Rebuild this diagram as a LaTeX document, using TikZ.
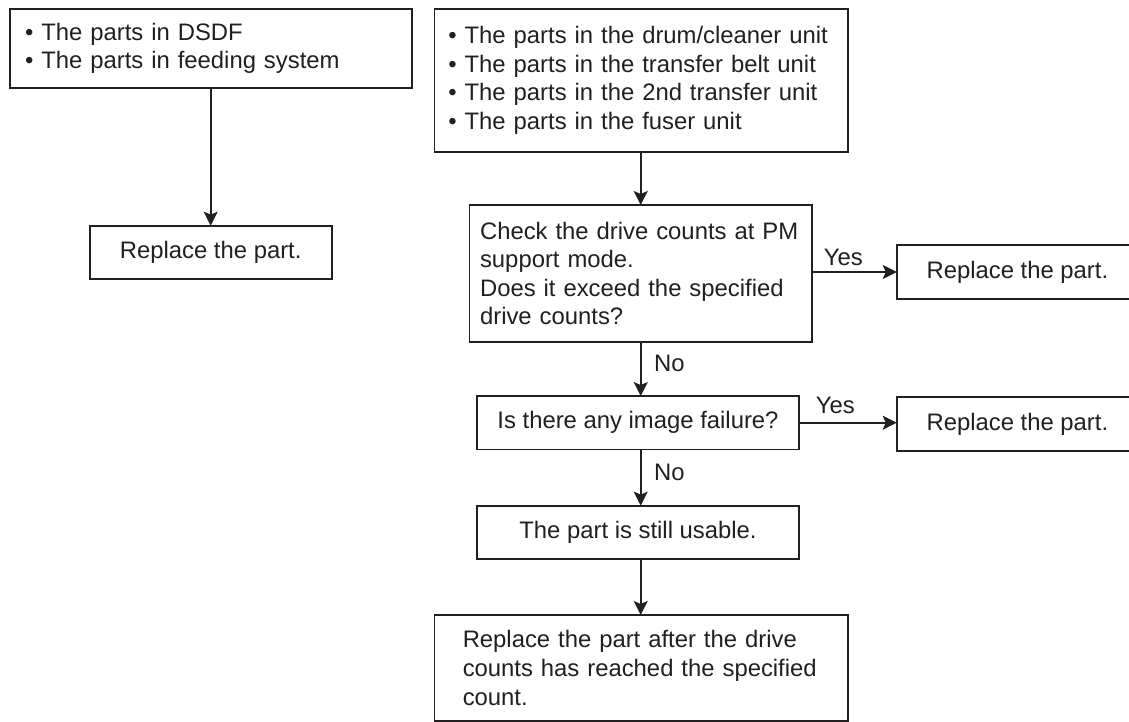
\documentclass[tikz,border=0pt]{standalone}
\usepackage{fontspec}
\setmainfont{Liberation Sans}
\usetikzlibrary{arrows.meta}
\definecolor{ink}{HTML}{231F20}
\begin{document}
\begin{tikzpicture}[x=1pt,y=-1pt,
  box/.style={draw=ink, line width=1.7pt, text=ink, font=\fontsize{23.85pt}{28.6pt}\selectfont, inner ysep=0pt, outer sep=0pt},
  lbox/.style={box, align=left},
  cbox/.style={box, align=center},
  arr/.style={draw=ink, line width=1.7pt, -{Stealth[length=14pt,width=14pt,inset=3pt]}},
  lab/.style={text=ink, font=\fontsize{23.85pt}{28.6pt}\selectfont, inner sep=0pt}]
\useasboundingbox (0,0) rectangle (1129,722);
\fill[white] (0,0) rectangle (1129,722);

\node[lbox, text width=372pt, inner xsep=15pt, minimum height=79pt] (b1) at (211,48.5)
  {• The parts in DSDF\\• The parts in feeding system};
\node[cbox, minimum width=242pt, minimum height=53.3pt] (r0) at (210.7,252.3) {Replace the part.};

\node[lbox, text width=385.7pt, inner xsep=14pt, minimum height=143pt] (b2) at (641.2,80.5)
  {• The parts in the drum/cleaner unit\\• The parts in the transfer belt unit\\• The parts in the 2nd transfer unit\\• The parts in the fuser unit};
\node[lbox, text width=321.3pt, inner xsep=10.7pt, minimum height=137pt] (d1) at (640.7,273.5)
  {Check the drive counts at PM\\support mode.\\Does it exceed the specified\\drive counts?};
\node[cbox, minimum width=241.3pt, minimum height=54pt] (r1) at (1017.4,272) {Replace the part.};
\node[cbox, minimum width=322.6pt, minimum height=53.3pt] (d2) at (638,422.7) {Is there any image failure?};
\node[cbox, minimum width=241.3pt, minimum height=53.4pt] (r2) at (1017.4,424) {Replace the part.};
\node[cbox, minimum width=322.6pt, minimum height=53.3pt] (u) at (638,532.3) {The part is still usable.};
\node[lbox, text width=356.9pt, inner xsep=28.4pt, minimum height=106pt] (f) at (641.2,668)
  {Replace the part after the drive\\counts has reached the specified\\count.};

\draw[arr] (r0.north |- b1.south) -- (r0.north);
\draw[arr] (b2.south -| d1.north) -- (d1.north);
\draw[arr] (d1.east |- r1.west) -- node[pos=0.37, lab, anchor=base, yshift=6.7pt] {Yes} (r1.west);
\draw[arr] (d1.south) -- node[pos=0.55, lab, anchor=base west, xshift=12.6pt] {No} (d1.south |- d2.north);
\draw[arr] (d2.east) -- node[pos=0.37, lab, anchor=base, yshift=9pt] {Yes} (r2.west |- d2.east);
\draw[arr] (d1.south |- d2.south) -- node[pos=0.557, lab, anchor=base west, xshift=12.6pt] {No} (d1.south |- u.north);
\draw[arr] (d1.south |- u.south) -- (d1.south |- f.north);
\end{tikzpicture}
\end{document}
